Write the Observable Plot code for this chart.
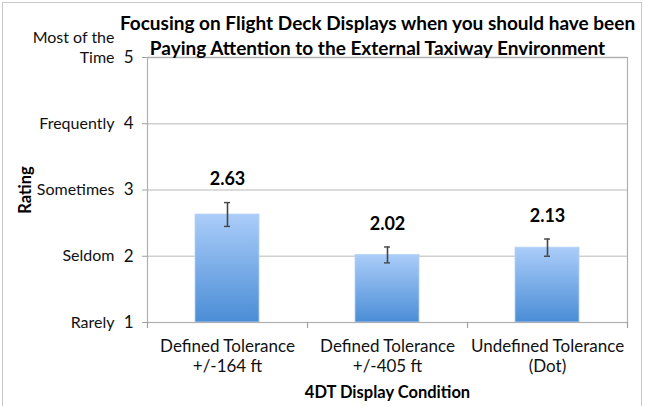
<!DOCTYPE html>
<html>
<head>
<meta charset="utf-8">
<script src="https://cdn.jsdelivr.net/npm/d3@7"></script>
<script src="https://cdn.jsdelivr.net/npm/@observablehq/plot@0.6"></script>
<style>
  html, body { margin: 0; padding: 0; background: #fff; }
  #frame { position: absolute; left: 2px; top: 2px; width: 640px; height: 410px; border: 1px solid #c8c8c8; box-sizing: border-box; }
  #chart { position: absolute; left: 0; top: 0; }
  svg { font-family: Lato, "Open Sans", sans-serif; }
</style>
</head>
<body>
<div id="frame"></div>
<div id="chart"></div>
<script>
const titleText = "Focusing on Flight Deck Displays when you should have been\nPaying Attention to the External Taxiway Environment";
const categories = ["Defined Tolerance\n+/-164 ft", "Defined Tolerance\n+/-405 ft", "Undefined Tolerance\n(Dot)"];
const ratings = [2.63, 2.02, 2.13];
const errors = [0.18, 0.12, 0.13];
const yTicks = [1, 2, 3, 4, 5];
const yTickNames = ["Rarely", "Seldom", "Sometimes", "Frequently", "Most of the\nTime"];
const xAxisTitle = "4DT Display Condition";
const yAxisTitle = "Rating";

const data = categories.map((c, i) => ({cat: c, value: ratings[i], err: errors[i]}));
const yLabelRows = yTicks.map((t, i) => ({t, name: yTickNames[i]}));

const W = 645, H = 406;
const mL = 147, mR = 18, mT = 57, mB = 84;
const step = (W - mL - mR) / categories.length;

const chart = Plot.plot({
  width: W,
  height: H,
  marginLeft: mL,
  marginRight: mR,
  marginTop: mT,
  marginBottom: mB,
  style: {fontFamily: "Lato, 'Open Sans', sans-serif", background: "transparent"},
  x: {domain: categories, paddingInner: 0.6, paddingOuter: 0.3, axis: null},
  y: {domain: [1, 5], axis: null},
  marks: [
    Plot.gridY(yTicks.slice(1), {stroke: "#d0d0d0", strokeOpacity: 1, strokeWidth: 1.4}),
    Plot.barY(data, {x: "cat", y1: () => yTicks[0], y2: "value", fill: "url(#barGrad)", stroke: "#b7d3f5", strokeWidth: 0.8}),
    Plot.frame({stroke: "#b0b0b0", strokeWidth: 1.2}),
    Plot.axisY({ticks: yTicks, tickSize: 5, tickFormat: () => "", stroke: "#a0a0a0"}),
    // category boundary ticks below axis
    Plot.ruleX(data, {x: "cat", dx: -step / 2, y1: () => yTicks[0], y2: () => yTicks[0], insetBottom: -6, stroke: "#a0a0a0", strokeWidth: 1.2}),
    Plot.ruleX(data.slice(-1), {x: "cat", dx: step / 2, y1: () => yTicks[0], y2: () => yTicks[0], insetBottom: -6, stroke: "#a0a0a0", strokeWidth: 1.2}),
    // error bars
    Plot.ruleX(data, {x: "cat", y1: d => d.value - d.err, y2: d => d.value + d.err, stroke: "#454545", strokeWidth: 1.6}),
    Plot.tickY(data, {x: "cat", y: d => d.value + d.err, insetLeft: 29, insetRight: 29, stroke: "#454545", strokeWidth: 1.4}),
    Plot.tickY(data, {x: "cat", y: d => d.value - d.err, insetLeft: 29, insetRight: 29, stroke: "#454545", strokeWidth: 1.4}),
    // value labels
    Plot.text(data, {x: "cat", y: d => d.value + d.err, text: d => d.value.toFixed(2), dy: -23, fontSize: 18, fontWeight: "bold", fill: "#000"}),
    // y tick labels: names and numbers
    Plot.text(yLabelRows, {y: "t", text: "name", frameAnchor: "left", textAnchor: "end", lineAnchor: "bottom", dx: -33, dy: 5, fontSize: 16, lineHeight: 1.25, fill: "#111"}),
    Plot.text(yLabelRows, {y: "t", text: d => String(d.t), frameAnchor: "left", textAnchor: "end", lineAnchor: "middle", dx: -14, dy: 0, fontSize: 17, fill: "#111"}),
    // x tick labels
    Plot.text(data, {x: "cat", text: "cat", frameAnchor: "bottom", lineAnchor: "top", dy: 16, fontSize: 17, lineHeight: 1.15, fill: "#111"}),
    // axis titles
    Plot.text([xAxisTitle], {frameAnchor: "bottom", lineAnchor: "middle", dy: 70, fontSize: 16.5, fontWeight: "bold", fill: "#000"}),
    Plot.text([yAxisTitle], {frameAnchor: "left", textAnchor: "middle", lineAnchor: "middle", rotate: -90, dx: -122, fontSize: 16.5, fontWeight: "bold", fill: "#000"}),
    // chart title
    Plot.text([titleText], {frameAnchor: "top", lineAnchor: "middle", dx: -10, dy: -23.5, fontSize: 19, fontWeight: "bold", lineHeight: 1.32, fill: "#000"})
  ]
});

d3.select(chart).insert("defs", ":first-child").html(`
  <linearGradient id="barGrad" x1="0" y1="0" x2="0" y2="1">
    <stop offset="0%" stop-color="#abcdf9"/>
    <stop offset="100%" stop-color="#4a8dd6"/>
  </linearGradient>`);

document.getElementById("chart").appendChild(chart);
</script>
</body>
</html>
